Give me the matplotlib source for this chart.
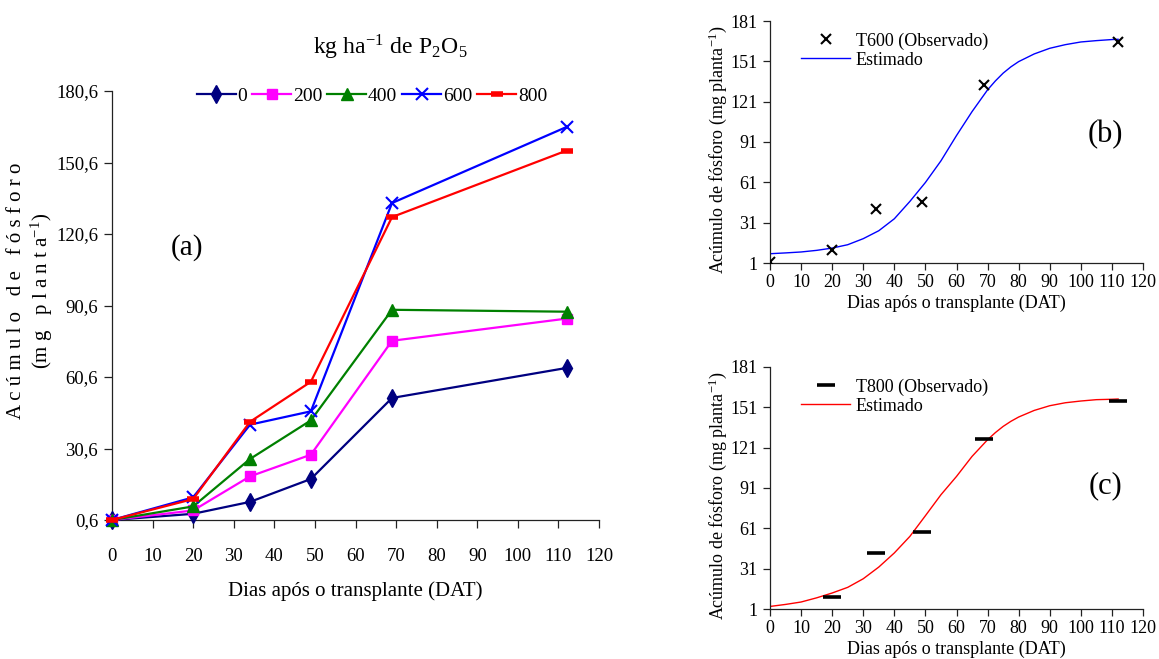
import matplotlib
matplotlib.use("Agg")
import matplotlib.pyplot as plt

plt.rcParams['font.family'] = ['Liberation Serif', 'DejaVu Serif']
plt.rcParams['mathtext.fontset'] = 'stix'

# ---------------- data ----------------
days = [0, 20, 34, 49, 69, 112]
doses = ['0', '200', '400', '600', '800']
p_0 = [0.6, 3.2, 8.2, 17.8, 51.8, 64.4]
p_200 = [0.6, 4.6, 18.9, 28.0, 75.8, 85.1]
p_400 = [0.6, 6.3, 26.2, 42.4, 88.8, 88.0]
p_600 = [0.6, 10.1, 40.6, 46.2, 133.6, 165.5]
p_800 = [0.6, 9.4, 41.8, 58.6, 127.7, 155.6]

obs_days_b = [0, 20, 34, 49, 69, 112]
obs_t600 = [1.6, 10.4, 41.1, 46.3, 133.2, 165.2]
obs_days_c = [20, 34, 49, 69, 112]
obs_t800 = [9.6, 42.7, 58.5, 127.7, 155.5]

est_days = [0, 5, 10, 15, 20, 25, 30, 35, 40, 45, 50, 55, 60, 65, 70, 72.5, 75,
            77.5, 80, 85, 90, 95, 100, 105, 110, 112]
est_t600 = [7.9, 8.5, 9.2, 10.4, 12.1, 14.6, 19.1, 25.0, 33.9, 46.8, 60.9, 77.0,
            95.8, 113.6, 129.8, 136.4, 142.2, 146.9, 150.8, 156.5, 160.7, 163.4,
            165.4, 166.4, 167.2, 167.4]
est_t800 = [2.9, 4.4, 6.2, 9.3, 12.9, 17.1, 23.5, 32.2, 42.7, 55.0, 70.4, 86.0,
            99.6, 114.5, 126.9, 132.2, 136.8, 140.6, 143.8, 148.7, 152.2, 154.4,
            155.7, 156.7, 157.0, 157.2]

yticks_a = [0.6, 30.6, 60.6, 90.6, 120.6, 150.6, 180.6]
yticks_bc = [1, 31, 61, 91, 121, 151, 181]
xticks = list(range(0, 121, 10))

# ---------------- figure ----------------
W, H = 1159, 659
fig = plt.figure(figsize=(W / 100, H / 100), dpi=100)


def rect(l, r, t, b):
    return [l / W, 1 - b / H, (r - l) / W, (b - t) / H]


def style(ax, ticklen, labsize):
    for s in ['top', 'right']:
        ax.spines[s].set_visible(False)
    for s in ['left', 'bottom']:
        ax.spines[s].set_linewidth(0.9)
        ax.spines[s].set_color('#222222')
    ax.tick_params(direction='out', length=ticklen, width=0.9, color='#222222',
                   labelsize=labsize, pad=4)


# ---- panel (a) ----
axa = fig.add_axes(rect(112, 599, 91, 520))
series = [p_0, p_200, p_400, p_600, p_800]
colors = ['#000080', '#FF00FF', '#008000', '#0000FF', '#FF0000']
markers = ['d', 's', '^', 'x', '_']
msizes = [9, 7, 8, 9, 8]
mews = [1, 1, 1, 1.5, 4]
for vals, c, m, ms, mew, lab in zip(series, colors, markers, msizes, mews, doses):
    axa.plot(days, vals, color=c, lw=1.6, marker=m, ms=ms, mew=mew,
             mec=c, mfc=c, label=lab, clip_on=False, zorder=3)
axa.set_xlim(0, 120)
axa.set_ylim(0.6, 180.6)
axa.set_xticks(xticks)
axa.set_yticks(yticks_a)
axa.set_yticklabels([f"{v:.1f}".replace('.', ',') for v in yticks_a])
style(axa, 6, 13.5)
axa.tick_params(axis='x', pad=14)
axa.set_xlabel('Dias após o transplante (DAT)', fontsize=15)
axa.xaxis.set_label_coords(0.5, -0.142)
axa.set_ylabel('A c ú m u l o   d e   f ó s f o r o\n(m g   p l a n t a$^{\\mathregular{-1}}$)',
               fontsize=15, linespacing=1.1)
axa.yaxis.set_label_coords(-0.118, 0.535)
axa.text(0.155, 0.635, '(a)', transform=axa.transAxes, fontsize=21,
         ha='center', va='center')
fig.text(390 / W, 1 - 47 / H, 'kg ha$^{\\mathregular{-1}}$ de P$_{\\mathregular{2}}$O$_{\\mathregular{5}}$',
         fontsize=17, ha='center', va='center')
fig.legend(*axa.get_legend_handles_labels(), loc='center',
           bbox_to_anchor=(372 / W, 1 - 96 / H), ncol=5, frameon=False,
           fontsize=14, handlelength=2.0, handletextpad=0.1, columnspacing=0.25,
           borderpad=0)


# ---- panels (b) and (c) ----
def side_panel(box, od, ov, ev, col, mk, obs_label, tag, tag_y):
    ax = fig.add_axes(box)
    ax.plot(est_days, ev, color=col, lw=1.0, label='Estimado', zorder=2)
    if mk == 'x':
        ax.plot(od, ov, ls='none', marker='x', ms=7, mew=1.5, color='black',
                label=obs_label, zorder=3)
    else:
        ax.plot(od, ov, ls='none', marker='_', ms=13, mew=2.6, color='black',
                label=obs_label, zorder=3, clip_on=False)
    ax.set_xlim(0, 120)
    ax.set_ylim(1, 181)
    ax.set_xticks(xticks)
    ax.set_yticks(yticks_bc)
    style(ax, 5, 13)
    ax.tick_params(axis='x', pad=3)
    ax.set_xlabel('Dias após o transplante (DAT)', fontsize=13)
    ax.xaxis.set_label_coords(0.5, -0.13)
    ax.set_ylabel('Acúmulo de fósforo (mg planta$^{\\mathregular{-1}}$)', fontsize=13)
    ax.yaxis.set_label_coords(-0.11, 0.47)
    h, l = ax.get_legend_handles_labels()
    ax.legend([h[1], h[0]], [l[1], l[0]], loc='upper left',
              bbox_to_anchor=(0.06, 0.99), frameon=False, fontsize=13,
              handlelength=2.7, handletextpad=0.3, borderpad=0, labelspacing=0.1)
    ax.text(0.9, tag_y, tag, transform=ax.transAxes, fontsize=22,
            ha='center', va='center')
    return ax


side_panel(rect(770, 1143, 21, 263), obs_days_b, obs_t600, est_t600, '#0000FF',
           'x', 'T600 (Observado)', '(b)', 0.53)
side_panel(rect(770, 1143, 367, 609), obs_days_c, obs_t800, est_t800, '#FF0000',
           '_', 'T800 (Observado)', '(c)', 0.51)

fig.savefig('out.png', dpi=100, facecolor='white')
